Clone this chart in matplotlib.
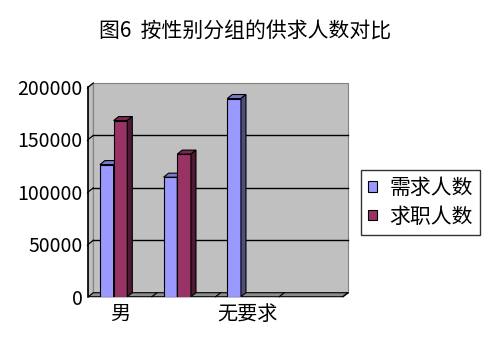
import numpy as np
import matplotlib
matplotlib.use('Agg')
import matplotlib.pyplot as plt
from matplotlib.patches import Polygon, Patch

plt.rcParams['font.family'] = ['Noto Sans CJK SC', 'DejaVu Sans']

categories = ['男', '女', '无要求', '']
demand = [126000, 114000, 189000, 0]     # 需求人数
seekers = [168000, 136000, 0, 0]         # 求职人数
series_names = ['需求人数', '求职人数']
yticks = [0, 50000, 100000, 150000, 200000]
title = '图6  按性别分组的供求人数对比'

front_cols = ['#9999FF', '#993366']
top_cols = ['#7A7ACC', '#7A2952']
side_cols = ['#4D4D80', '#4D1A33']

W, H, DPI = 488, 356, 100
fig = plt.figure(figsize=(W / DPI, H / DPI), dpi=DPI)
x0, x1, y0, y1 = 88.3, 343.0, 296.7, 87.0
ax = fig.add_axes([x0 / W, (H - y0) / H, (x1 - x0) / W, (y0 - y1) / H])
ymax = 200000
ncat = len(categories)
ax.set_xlim(0, ncat)
ax.set_ylim(0, ymax)
for s in ax.spines.values():
    s.set_visible(False)

# depth offset (px) converted to data units
dpx, dpy = 5.0, 4.0
dx = dpx * ncat / (x1 - x0)
dy = dpy * ymax / (y0 - y1)

def poly(pts, fc, ec, z, lw=0.8):
    ax.add_patch(Polygon(pts, closed=True, facecolor=fc, edgecolor=ec,
                         linewidth=lw, zorder=z, clip_on=False))

# walls and floor
poly([(dx, dy), (ncat + dx, dy), (ncat + dx, ymax + dy), (dx, ymax + dy)], '#C0C0C0', '#808080', 1)
poly([(0, 0), (dx, dy), (dx, ymax + dy), (0, ymax)], '#C0C0C0', '#808080', 1)
poly([(0, 0), (ncat, 0), (ncat + dx, dy), (dx, dy)], '#8C8C8C', 'black', 1.5)

for v in yticks:
    if 0 < v < ymax:
        ax.plot([dx, ncat + dx], [v + dy, v + dy], color='black', lw=1.0, zorder=1.2, clip_on=False)
    if v > 0:
        ax.plot([-0.012, 0, dx], [v - dy * 0.3, v, v + dy], color='black', lw=0.9, zorder=1.3, clip_on=False)
ax.plot([0, 0], [0, ymax], color='black', lw=1.2, zorder=1.4, clip_on=False)
for i in range(1, ncat + 1):
    ax.plot([i, i + dx], [0, dy], color='black', lw=0.9, zorder=1.6, clip_on=False)

# 3D-looking bars
bw = 0.215
offs = [0.29, 0.29 + bw]
z = 2
for i in range(ncat):
    for k, vals in enumerate([demand, seekers]):
        v = vals[i]
        if v <= 0:
            continue
        xc = i + offs[k]
        l, r = xc - bw / 2, xc + bw / 2
        ax.bar(xc, v, bw, color=front_cols[k], edgecolor='black', linewidth=0.8, zorder=z)
        poly([(l, v), (r, v), (r + dx, v + dy), (l + dx, v + dy)], top_cols[k], 'black', z)
        poly([(r, 0), (r + dx, dy), (r + dx, v + dy), (r, v)], side_cols[k], 'black', z)
        z += 1

ax.set_yticks(yticks)
ax.set_yticklabels([str(v) for v in yticks], fontsize=14)
ax.set_xticks(np.arange(ncat) + 0.5)
ax.set_xticklabels([c if i % 2 == 0 else '' for i, c in enumerate(categories)], fontsize=14.5)
ax.tick_params(axis='both', length=0)
ax.tick_params(axis='y', pad=4)
ax.tick_params(axis='x', pad=5)

fig.text(245 / W, 1 - 31 / H, title, ha='center', va='center', fontsize=15)

handles = [Patch(facecolor=front_cols[k], edgecolor='black', linewidth=0.8) for k in range(2)]
leg = fig.legend(handles, series_names, loc='upper left', bbox_to_anchor=(361 / W, 1 - 170 / H),
                 fontsize=15, frameon=True, fancybox=False, edgecolor='black',
                 handlelength=0.42, handleheight=0.42, handletextpad=0.6,
                 borderpad=0.35, labelspacing=0.3, borderaxespad=0)
leg.get_frame().set_linewidth(1.0)

fig.savefig('out.png', dpi=DPI)
